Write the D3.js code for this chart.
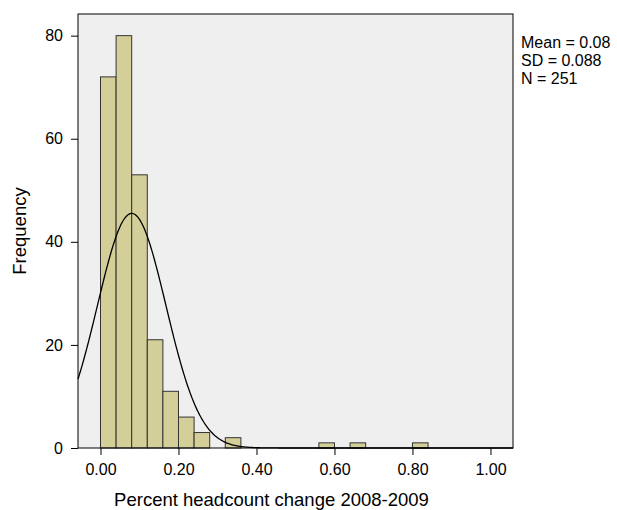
<!DOCTYPE html>
<html><head><meta charset="utf-8">
<script src="https://cdn.jsdelivr.net/npm/d3@7"></script>
<style>
body{margin:0;background:#fff}
svg text{font-family:"Liberation Sans",Arial,Helvetica,sans-serif;fill:#000}
</style>
</head><body>
<svg id="c" width="617" height="510"></svg>
<script>
// Data
const binStarts = [0, 0.04, 0.08, 0.12, 0.16, 0.20, 0.24, 0.28, 0.32, 0.56, 0.64, 0.80];
const binCounts = [72, 80, 53, 21, 11, 6, 3, 0, 2, 1, 1, 1];
const binWidth = 0.04;
const xTicks = [0, 0.2, 0.4, 0.6, 0.8, 1.0];
const yTicks = [0, 20, 40, 60, 80];
const statLines = ["Mean = 0.08", "SD = 0.088", "N = 251"];
const mean = 0.08, sd = 0.088, n = 251;
const xTitle = "Percent headcount change 2008-2009";
const yTitle = "Frequency";

const svg = d3.select("#c");
const L = 78, R = 513, T = 14, B = 448;
const x = d3.scaleLinear().domain([-0.0577, 1.0578]).range([L, R]);
const y = d3.scaleLinear().domain([0, 84.2]).range([B, T]);

svg.append("rect").attr("x", L).attr("y", T).attr("width", R - L).attr("height", B - T)
  .attr("fill", "#efefef");

const bars = binStarts.map((s, i) => ({s, c: binCounts[i]})).filter(d => d.c > 0);
svg.append("g").selectAll("rect").data(bars).join("rect")
  .attr("x", d => x(d.s)).attr("width", d => x(d.s + binWidth) - x(d.s))
  .attr("y", d => y(d.c)).attr("height", d => y(0) - y(d.c))
  .attr("fill", "#d4cf99").attr("stroke", "#333").attr("stroke-width", 1);

// fitted normal curve
const dens = v => n * binWidth / (sd * Math.sqrt(2 * Math.PI)) * Math.exp(-0.5 * ((v - mean) / sd) ** 2);
const xs = d3.range(0, 401).map(i => x.domain()[0] + (x.domain()[1] - x.domain()[0]) * i / 400);
svg.append("path").datum(xs)
  .attr("d", d3.line().x(v => x(v)).y(v => y(dens(v))).curve(d3.curveBasis))
  .attr("fill", "none").attr("stroke", "#000").attr("stroke-width", 1.3);

// frame
svg.append("rect").attr("x", L).attr("y", T).attr("width", R - L).attr("height", B - T)
  .attr("fill", "none").attr("stroke", "#000").attr("stroke-width", 1);

// axes
const xa = svg.append("g").attr("transform", `translate(0,${B})`)
  .call(d3.axisBottom(x).tickValues(xTicks).tickFormat(d3.format(".2f")).tickSize(7).tickPadding(9));
const ya = svg.append("g").attr("transform", `translate(${L},0)`)
  .call(d3.axisLeft(y).tickValues(yTicks).tickSize(7).tickPadding(8));
[xa, ya].forEach(a => {
  a.select(".domain").remove();
  a.selectAll("line").attr("stroke", "#000");
  a.selectAll("text").attr("font-size", 16).attr("font-family", null);
});

svg.append("text").attr("x", x(0.5) - 24).attr("y", 506).attr("text-anchor", "middle")
  .attr("font-size", 18.5).text(xTitle);
svg.append("text").attr("transform", `translate(26,${(T + B) / 2}) rotate(-90)`)
  .attr("text-anchor", "middle").attr("font-size", 18.5).text(yTitle);

svg.append("g").selectAll("text").data(statLines).join("text")
  .attr("x", 521).attr("y", (d, i) => 48 + i * 18)
  .attr("font-size", 16).text(d => d);
</script>
</body></html>
